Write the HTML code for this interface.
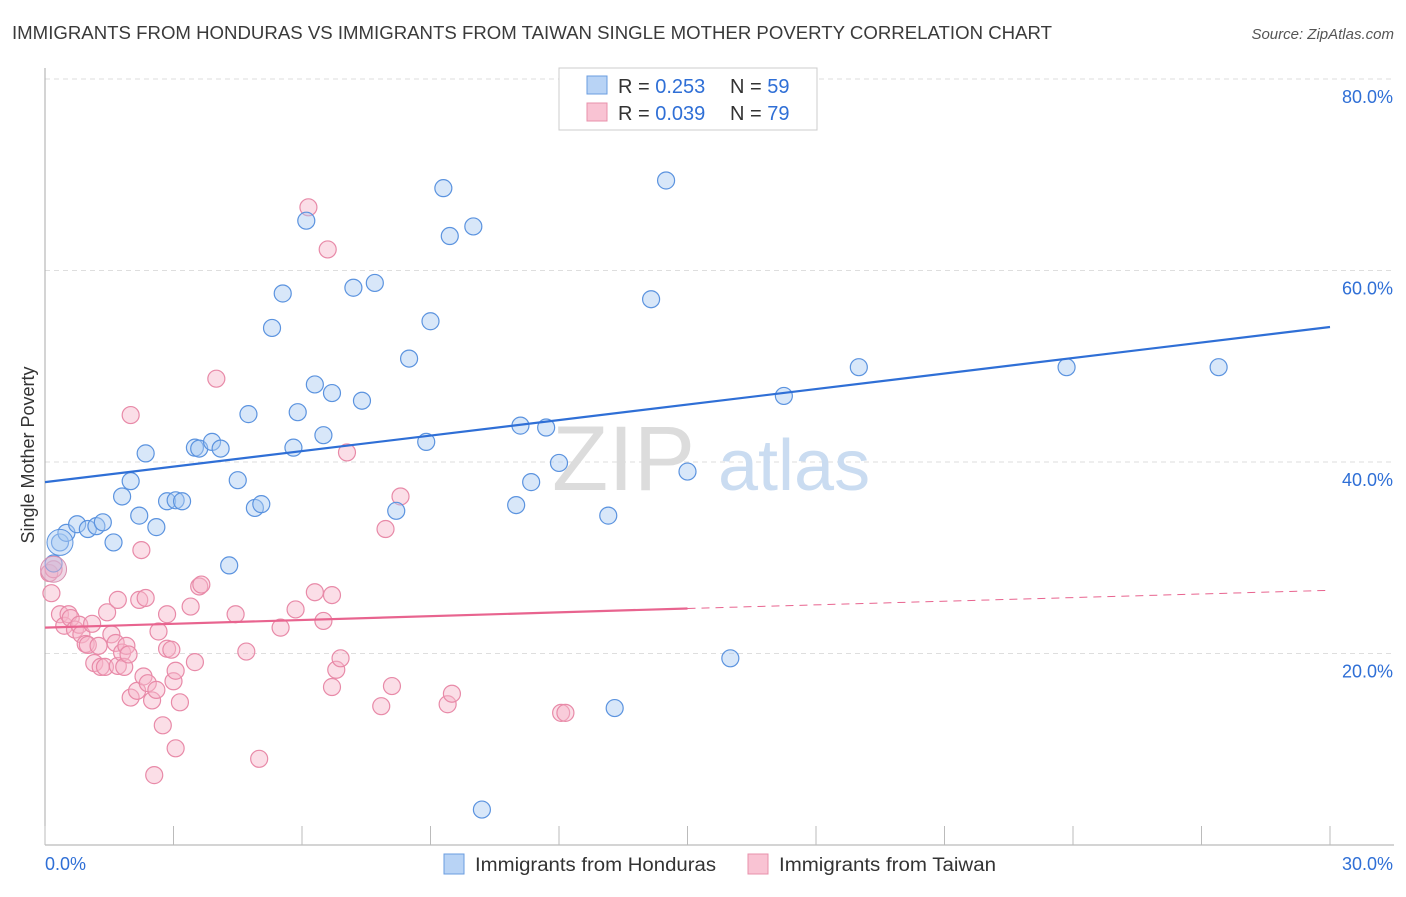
<!DOCTYPE html>
<html><head><meta charset="utf-8"><style>
body{margin:0;background:#fff;font-family:"Liberation Sans",sans-serif;}
svg text{font-family:"Liberation Sans",sans-serif;}
</style></head><body>
<svg id="chart" width="1406" height="892" xmlns="http://www.w3.org/2000/svg">
<text x="12" y="39" font-size="18" fill="#3a3a3a" textLength="1040" lengthAdjust="spacingAndGlyphs">IMMIGRANTS FROM HONDURAS VS IMMIGRANTS FROM TAIWAN SINGLE MOTHER POVERTY CORRELATION CHART</text>
<text x="1394" y="39" font-size="15" fill="#555" text-anchor="end" font-style="italic">Source: ZipAtlas.com</text>
<text transform="translate(34,455) rotate(-90)" font-size="18" fill="#333" text-anchor="middle">Single Mother Poverty</text>
<g id="grid"></g>
<text x="552" y="490" font-size="92" fill="#dcdcdc" font-family="Liberation Serif">ZIP</text>
<text x="718" y="490" font-size="72" fill="#cadcf1">atlas</text>
<g id="marks"></g>
<g>
<rect x="559" y="68" width="258" height="62" fill="#fff" stroke="#ccc"/>
<rect x="587" y="76" width="20" height="18" fill="#b8d3f5" stroke="#6a9de0"/>
<rect x="587" y="103" width="20" height="18" fill="#f9c3d3" stroke="#e890ab"/>
<text x="618" y="93" font-size="20" fill="#333">R = <tspan fill="#2f6fd6">0.253</tspan><tspan x="730">N = </tspan><tspan fill="#2f6fd6">59</tspan></text>
<text x="618" y="120" font-size="20" fill="#333">R = <tspan fill="#2f6fd6">0.039</tspan><tspan x="730">N = </tspan><tspan fill="#2f6fd6">79</tspan></text>
</g>
<g>
<rect x="444" y="854" width="20" height="20" fill="#b8d3f5" stroke="#6a9de0"/>
<text x="475" y="871" font-size="19" fill="#333" textLength="241" lengthAdjust="spacingAndGlyphs">Immigrants from Honduras</text>
<rect x="748" y="854" width="20" height="20" fill="#f9c3d3" stroke="#e890ab"/>
<text x="779" y="871" font-size="19" fill="#333" textLength="217" lengthAdjust="spacingAndGlyphs">Immigrants from Taiwan</text>
</g>
</svg>
<script>
const xTicks=[0,3,6,9,12,15,18,21,24,27,30];
const yTicks=[20,40,60,80];
const yTickLabels=["20.0%","40.0%","60.0%","80.0%"];
const hondurasX=[0.2,0.35,0.5,0.75,1.0,1.2,1.35,1.6,1.8,2.0,2.2,2.35,2.6,2.85,3.05,3.2,3.5,3.6,3.9,4.1,4.3,4.5,4.75,4.9,5.05,5.3,5.55,5.8,5.9,6.1,6.3,6.5,6.7,7.2,7.4,7.7,8.2,8.5,8.9,9.0,9.3,9.45,10.0,10.2,11.0,11.1,11.35,11.7,12.0,13.15,13.3,14.15,14.5,15.0,16.0,17.25,19.0,23.85,27.4];
const hondurasY=[29.4,31.6,32.6,33.5,33.0,33.3,33.7,31.6,36.4,38.0,34.4,40.9,33.2,35.9,36.0,35.9,41.5,41.4,42.1,41.4,29.2,38.1,45.0,35.2,35.6,54.0,57.6,41.5,45.2,65.2,48.1,42.8,47.2,58.2,46.4,58.7,34.9,50.8,42.1,54.7,68.6,63.6,64.6,3.7,35.5,43.8,37.9,43.6,39.9,34.4,14.3,57.0,69.4,39.0,19.5,46.9,49.9,49.9,49.9];
const taiwanX=[0.1,0.15,0.2,0.35,0.45,0.55,0.6,0.7,0.8,0.85,0.95,1.0,1.1,1.15,1.25,1.3,1.4,1.45,1.55,1.65,1.7,1.7,1.8,1.85,1.9,1.95,2.0,2.0,2.15,2.2,2.25,2.3,2.35,2.4,2.5,2.55,2.6,2.65,2.75,2.85,2.85,2.95,3.0,3.05,3.05,3.15,3.4,3.5,3.6,3.65,4.0,4.45,4.7,5.0,5.5,5.85,6.15,6.3,6.5,6.6,6.7,6.7,6.8,6.9,7.05,7.85,7.95,8.1,8.3,9.4,9.5,12.05,12.15];
const taiwanY=[28.4,26.3,28.8,24.1,22.9,24.1,23.7,22.5,23.0,22.0,21.0,20.9,23.1,19.0,20.8,18.6,18.6,24.3,22.0,21.1,25.6,18.7,20.1,18.6,20.8,19.9,44.9,15.4,16.1,25.6,30.8,17.6,25.8,16.9,15.1,7.3,16.2,22.3,12.5,24.1,20.5,20.4,17.1,10.1,18.2,14.9,24.9,19.1,27.0,27.2,48.7,24.1,20.2,9.0,22.7,24.6,66.6,26.4,23.4,62.2,26.1,16.5,18.3,19.5,41.0,14.5,33.0,16.6,36.4,14.7,15.8,13.8,13.8];
const X0=45,X1=1330,Y0=845,YS=191.5/20;
function xs(v){return X0+(v-xTicks[0])/(xTicks[xTicks.length-1]-xTicks[0])*(X1-X0);}
function ys(v){return Y0-v*YS;}
const NS="http://www.w3.org/2000/svg";
function mk(tag,attrs,parent){const e=document.createElementNS(NS,tag);for(const k in attrs)e.setAttribute(k,attrs[k]);parent.appendChild(e);return e;}
const grid=document.getElementById('grid');
const marks=document.getElementById('marks');
yTicks.forEach((t,i)=>{
 const g=mk('line',{x1:X0,x2:1394,y1:ys(t),y2:ys(t),stroke:'#dedede','stroke-dasharray':'5,4'},grid);
 
 
 const l=mk('text',{x:1393,y:ys(t)+24,'font-size':18,fill:'#2f6fd6','text-anchor':'end'},grid);
 l.textContent=yTickLabels[i];
 
 
});
const ax=mk('line',{x1:X0,x2:X0,y1:68,y2:Y0,stroke:'#aaa'},grid);


const bx=mk('line',{x1:X0,x2:1394,y1:Y0,y2:Y0,stroke:'#aaa'},grid);


xTicks.forEach(t=>{
 const tk=mk('line',{x1:xs(t),x2:xs(t),y1:826,y2:Y0,stroke:'#bbb'},grid);
 
 
});
const xl0=mk('text',{x:45,y:870,'font-size':18,fill:'#2f6fd6'},grid);xl0.textContent=xTicks[0].toFixed(1)+'%';


const xl1=mk('text',{x:1393,y:870,'font-size':18,fill:'#2f6fd6','text-anchor':'end'},grid);xl1.textContent=xTicks[xTicks.length-1].toFixed(1)+'%';


function drawPts(X,Y,fill,stroke,name){
 X.forEach((x,i)=>{
  const c=mk('circle',{cx:xs(x),cy:ys(Y[i]),r:8.5,fill:fill,'fill-opacity':0.45,stroke:stroke,'stroke-width':1.2},marks);
  
  
 });
}
drawPts(taiwanX,taiwanY,'#f7b6c9','#e88aa8','taiwan-point');
drawPts(hondurasX,hondurasY,'#a9c9f2','#5b93df','honduras-point');
const big1=mk('circle',{cx:xs(0.35),cy:ys(31.6),r:13,fill:'#a9c9f2','fill-opacity':0.45,stroke:'#5b93df'},marks);


const big2=mk('circle',{cx:xs(0.2),cy:ys(28.8),r:13,fill:'#e0b0cc','fill-opacity':0.5,stroke:'#d890b0'},marks);


const bl=mk('line',{x1:xs(0),y1:ys(37.9),x2:xs(30),y2:ys(54.1),stroke:'#2f6fd6','stroke-width':2.2},marks);


const pl=mk('line',{x1:xs(0),y1:ys(22.7),x2:xs(15),y2:ys(24.7),stroke:'#e8648f','stroke-width':2.2},marks);


const pd=mk('line',{x1:xs(15),y1:ys(24.7),x2:xs(30),y2:ys(26.6),stroke:'#e8648f','stroke-width':1,'stroke-dasharray':'8,6'},marks);


</script>
</body></html>
